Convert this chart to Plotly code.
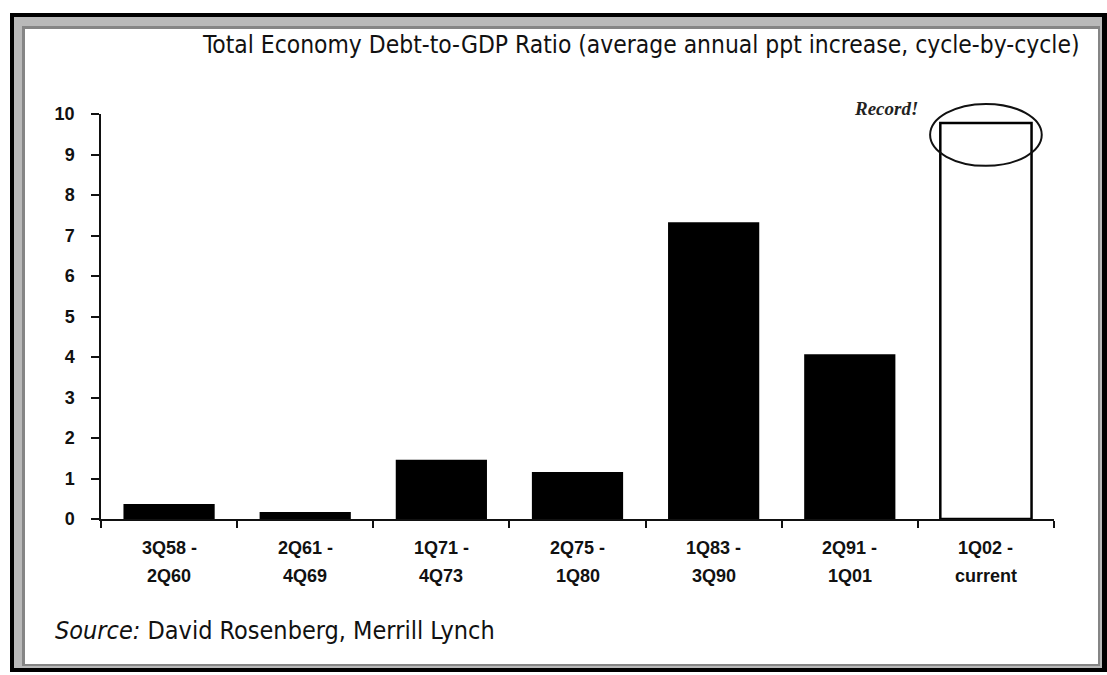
import plotly.graph_objects as go

W, H = 1107, 675

# ---------------- data ----------------
label_top = ["3Q58 -", "2Q61 -", "1Q71 -", "2Q75 -", "1Q83 -", "2Q91 -", "1Q02 -"]
label_bottom = ["2Q60", "4Q69", "4Q73", "1Q80", "3Q90", "1Q01", "current"]
categories = [f"{a} {b}" for a, b in zip(label_top, label_bottom)]
values = [0.37, 0.17, 1.46, 1.16, 7.33, 4.07, 9.78]
y_ticks = list(range(0, 11))

title_text = "Total Economy Debt-to-GDP Ratio (average annual ppt increase, cycle-by-cycle)"
source_text = "<i>Source:</i> David Rosenberg, Merrill Lynch"
callout_text = "<b><i>Record!</i></b>"

# ---------------- layout geometry (pixels) ----------------
X0, X1 = 101, 1054      # x axis extent
Y0, Y10 = 519, 114      # pixel rows of y=0 and y=10
N = len(categories)


def px(x):
    return x / W


def py(y):
    return 1 - y / H


def cat_px(i):
    return X0 + (i + 0.5) * (X1 - X0) / N


def val_py(v):
    return Y0 - v * (Y0 - Y10) / 10.0


bar_fill = ["black"] * (N - 1) + ["white"]
bar_line_w = [0] * (N - 1) + [2.5]

fig = go.Figure(
    go.Bar(
        x=categories,
        y=values,
        width=0.67,
        marker=dict(color=bar_fill, line=dict(color="black", width=bar_line_w)),
        hoverinfo="skip",
    )
)

tick_font = dict(family="Liberation Sans, Arial, sans-serif", size=18, color="#111", weight="bold")
text_font = "Liberation Sans Narrow, Arial Narrow, DejaVu Sans Condensed, sans-serif"

fig.update_layout(
    width=W,
    height=H,
    margin=dict(l=0, r=0, t=0, b=0, autoexpand=False),
    paper_bgcolor="white",
    plot_bgcolor="rgba(0,0,0,0)",
    showlegend=False,
    xaxis=dict(
        domain=[px(X0), px(X1)],
        showline=True, linecolor="#111", linewidth=2,
        ticks="outside", ticklen=7, tickwidth=1.5, tickcolor="#111",
        tickson="boundaries",
        showticklabels=False,
        showgrid=False, zeroline=False,
    ),
    yaxis=dict(
        domain=[py(Y0), py(Y10)],
        range=[0, 10],
        tickvals=y_ticks,
        showline=True, linecolor="#111", linewidth=1.5,
        ticks="outside", ticklen=8, tickwidth=1.5, tickcolor="#111",
        tickfont=tick_font,
        ticklabelstandoff=13,
        showgrid=False, zeroline=False,
    ),
)

# two-line category labels, placed by the x axis
for cat, top, bottom in zip(categories, label_top, label_bottom):
    fig.add_annotation(text=top, xref="x", yref="paper", x=cat, y=py(548),
                       xanchor="center", yanchor="middle", showarrow=False, font=tick_font)
    fig.add_annotation(text=bottom, xref="x", yref="paper", x=cat, y=py(576),
                       xanchor="center", yanchor="middle", showarrow=False, font=tick_font)

# ---------------- frame (bevelled border) ----------------
frame = [
    (10, 13, 1107, 672, "#000000"),
    (14, 17, 1102, 668, "#b9b9b9"),
    (22, 26, 1100, 666, "#858585"),
    (25, 29, 1098, 664, "#ffffff"),
]
for x0, y0, x1, y1, c in frame:
    fig.add_shape(type="rect", xref="paper", yref="paper",
                  x0=px(x0), x1=px(x1), y0=py(y1), y1=py(y0),
                  fillcolor=c, line=dict(width=0), layer="below")

# ---------------- ellipse around the record bar ----------------
last = N - 1
half_w = 0.41 * (X1 - X0) / N
fig.add_shape(type="circle", xref="paper", yref="paper",
              x0=px(cat_px(last) - half_w), x1=px(cat_px(last) + half_w),
              y0=py(val_py(values[last] - 1.06)), y1=py(val_py(values[last] + 0.47)),
              line=dict(color="#111", width=2), fillcolor="rgba(0,0,0,0)")

# ---------------- texts ----------------
fig.add_annotation(text=title_text, xref="paper", yref="paper",
                   x=px(1081), y=py(45), xanchor="right", yanchor="middle",
                   showarrow=False, font=dict(family=text_font, size=24.4, color="#111"))
fig.add_annotation(text=source_text, xref="paper", yref="paper",
                   x=px(53), y=py(630), xanchor="left", yanchor="middle",
                   showarrow=False, font=dict(family=text_font, size=25, color="#111"))
fig.add_annotation(text=callout_text, xref="paper", yref="paper",
                   x=px(886), y=py(108), xanchor="center", yanchor="middle",
                   showarrow=False, font=dict(family="Liberation Serif, serif", size=19, color="#222"))

fig.write_html(
    "out.html",
    config={"displayModeBar": False},
    post_script="document.body.style.margin='0';document.body.style.overflow='hidden';",
)
